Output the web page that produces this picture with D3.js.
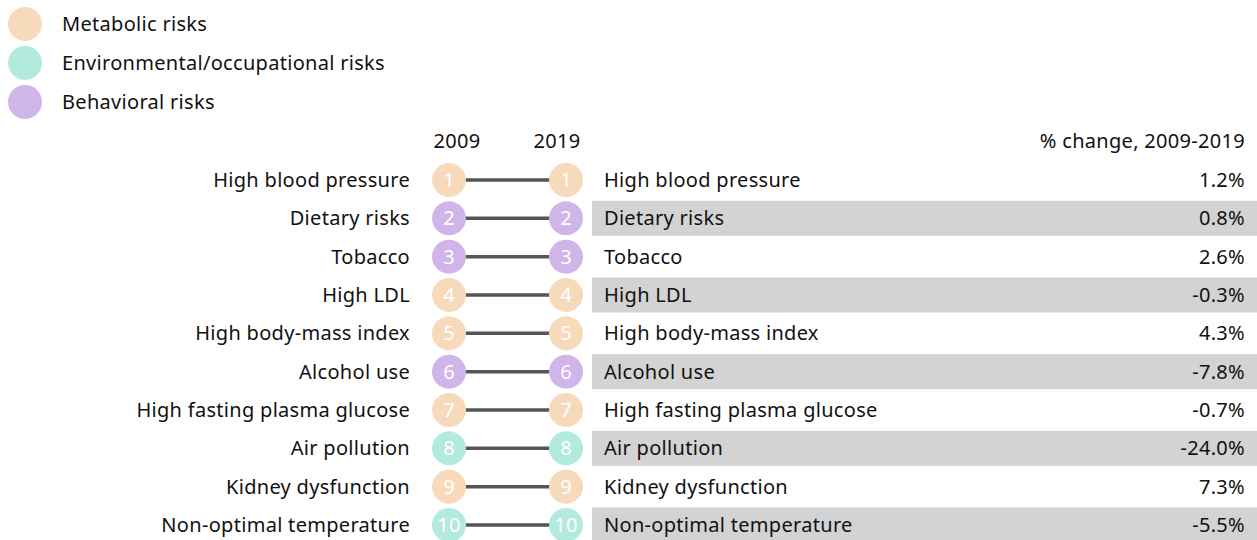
<!DOCTYPE html>
<html>
<head>
<meta charset="utf-8">
<script src="https://cdn.jsdelivr.net/npm/d3@7"></script>
<style>
  body { margin: 0; background: #fff; }
  text { font-family: "Noto Sans", sans-serif; letter-spacing: 0.3px; }
</style>
</head>
<body>
<div id="chart"></div>
<script>
var risks = ["High blood pressure", "Dietary risks", "Tobacco", "High LDL", "High body-mass index",
  "Alcohol use", "High fasting plasma glucose", "Air pollution", "Kidney dysfunction", "Non-optimal temperature"];
var groups = ["met", "beh", "beh", "met", "met", "beh", "met", "env", "met", "env"];
var rank2009 = [1, 2, 3, 4, 5, 6, 7, 8, 9, 10];
var rank2019 = [1, 2, 3, 4, 5, 6, 7, 8, 9, 10];
var pctChange = [1.2, 0.8, 2.6, -0.3, 4.3, -7.8, -0.7, -24.0, 7.3, -5.5];
var legendKeys = ["met", "env", "beh"];
var legendLabels = ["Metabolic risks", "Environmental/occupational risks", "Behavioral risks"];
var years = ["2009", "2019"];

var width = 1257, height = 540;
var fontSize = 20;
var color = d3.scaleOrdinal().domain(legendKeys).range(["#f7dabc", "#b2eadd", "#cfb5ea"]);
var fmt = function(v) { return d3.format('.1f')(v).replace('\u2212', '-') + '%'; };

var svg = d3.select('#chart').append('svg')
  .attr('width', width)
  .attr('height', height);

// legend
var leg = svg.append('g').attr('id', 'legend');
var ly = d3.scalePoint().domain(legendKeys).range([24, 102]);
legendKeys.forEach(function(k, i) {
  leg.append('circle')
    .attr('cx', 25).attr('cy', ly(k)).attr('r', 17)
    .attr('fill', color(k));
  leg.append('text')
    .attr('x', 62).attr('y', ly(k))
    .attr('dy', '0.35em')
    .attr('font-size', fontSize)
    .attr('fill', '#111')
    .text(legendLabels[i]);
});

// rows
var y = d3.scaleLinear().domain([1, 10]).range([180, 525]);
var xYear = d3.scalePoint().domain(years).range([449, 566]);
var rowH = 35, barX = 592;

var rows = svg.append('g').attr('id', 'rows');

// header
rows.selectAll('text.year').data(years).enter().append('text')
  .attr('class', 'year')
  .attr('x', function(d, i) { return xYear(d) + (i == 0 ? 8 : -9); })
  .attr('y', 141)
  .attr('dy', '0.35em')
  .attr('text-anchor', 'middle')
  .attr('font-size', fontSize)
  .attr('fill', '#111')
  .text(function(d) { return d; });
rows.append('text')
  .attr('x', 1245).attr('y', 141).attr('dy', '0.35em')
  .attr('text-anchor', 'end')
  .attr('font-size', fontSize)
  .attr('fill', '#111')
  .text('% change, 2009-2019');

risks.forEach(function(name, i) {
  var y0 = y(rank2009[i]), y1 = y(rank2019[i]);
  if (i % 2 == 1) {
    rows.append('rect')
      .attr('x', barX).attr('y', y1 - rowH / 2)
      .attr('width', width - barX).attr('height', rowH)
      .attr('fill', '#d3d3d3');
  }
  rows.append('text')
    .attr('x', 410).attr('y', y0).attr('dy', '0.35em')
    .attr('text-anchor', 'end')
    .attr('font-size', fontSize)
    .attr('fill', '#111')
    .text(name);
  rows.append('line')
    .attr('x1', xYear('2009')).attr('y1', y0)
    .attr('x2', xYear('2019')).attr('y2', y1)
    .attr('stroke', '#555')
    .attr('stroke-width', 3.5);
  [[xYear('2009'), y0, rank2009[i]], [xYear('2019'), y1, rank2019[i]]].forEach(function(p) {
    rows.append('circle')
      .attr('cx', p[0]).attr('cy', p[1]).attr('r', 17)
      .attr('fill', color(groups[i]));
    rows.append('text')
      .attr('x', p[0]).attr('y', p[1]).attr('dy', '0.35em')
      .attr('text-anchor', 'middle')
      .attr('font-size', fontSize)
      .attr('fill', '#fff')
      .text(p[2]);
  });
  rows.append('text')
    .attr('x', 604).attr('y', y1).attr('dy', '0.35em')
    .attr('font-size', fontSize)
    .attr('fill', '#111')
    .text(name);
  rows.append('text')
    .attr('x', 1245).attr('y', y1).attr('dy', '0.35em')
    .attr('text-anchor', 'end')
    .attr('font-size', fontSize)
    .attr('fill', '#111')
    .text(fmt(pctChange[i]));
});
</script>
</body>
</html>
